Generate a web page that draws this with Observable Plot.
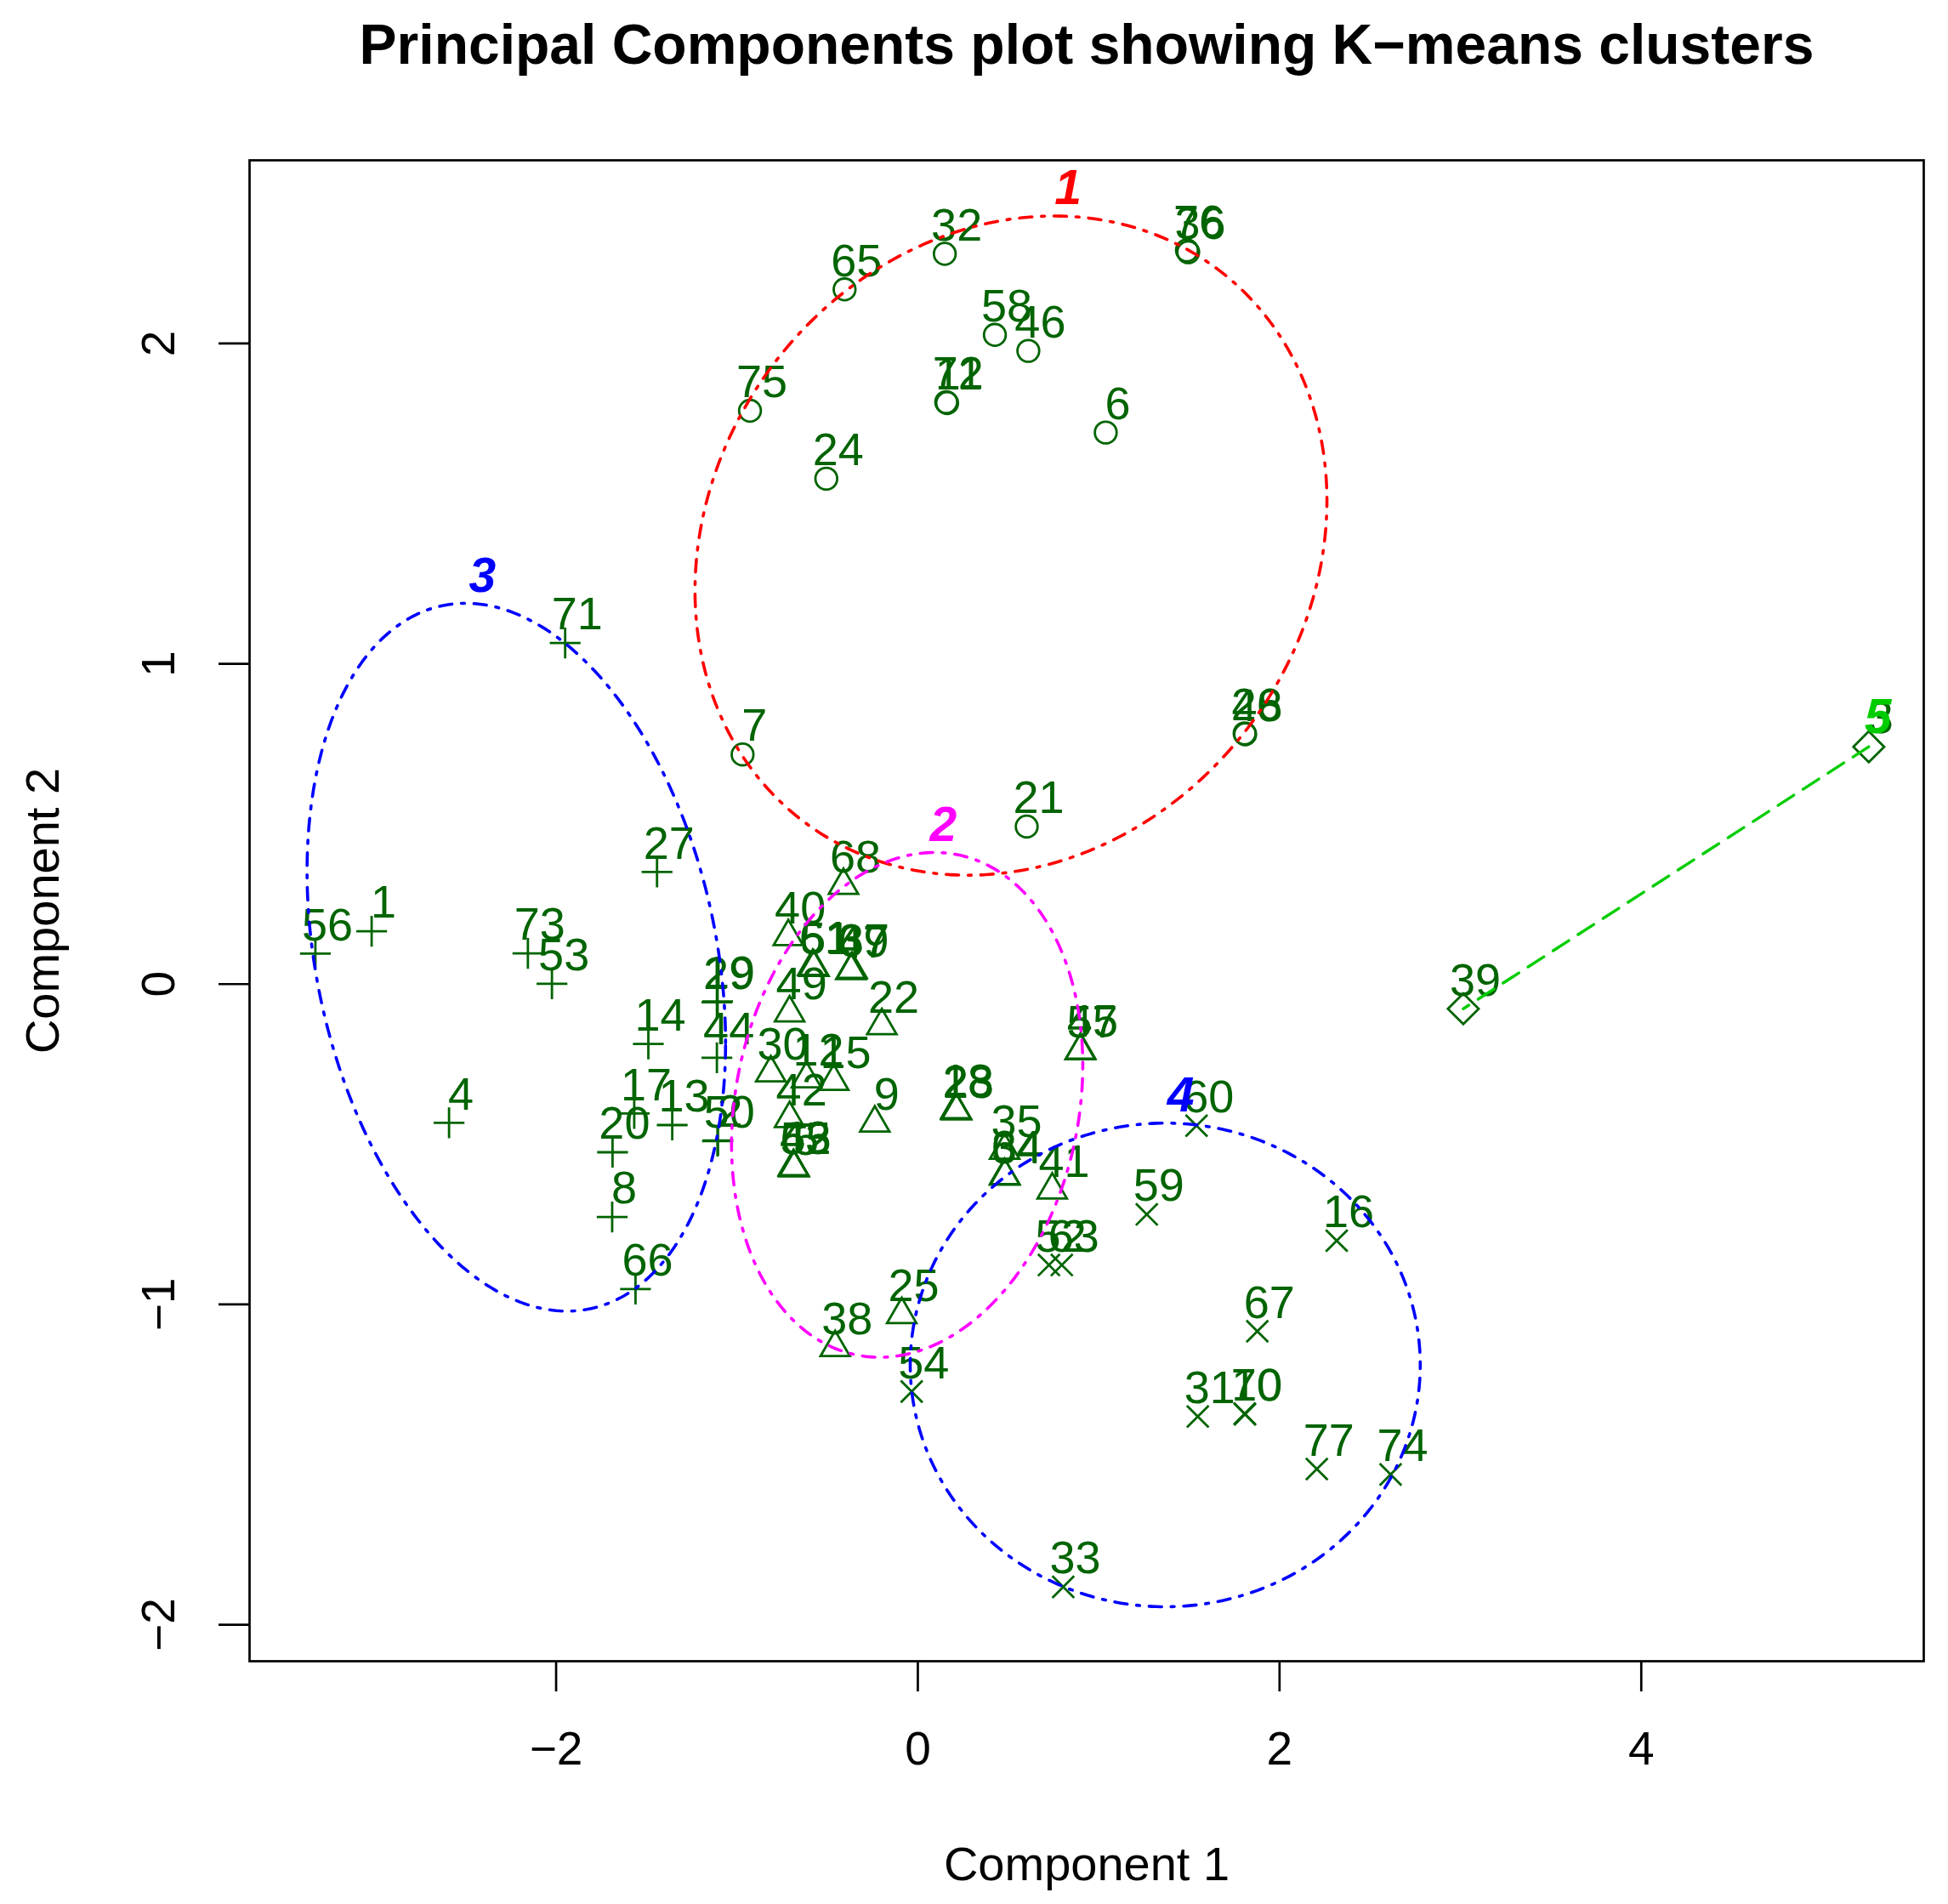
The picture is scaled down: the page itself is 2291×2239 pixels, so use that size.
<!DOCTYPE html>
<html>
<head>
<meta charset="utf-8">
<script src="https://cdn.jsdelivr.net/npm/d3@7"></script>
<script src="https://cdn.jsdelivr.net/npm/@observablehq/plot@0.6"></script>
<style>
html, body { margin: 0; padding: 0; background: #fff; }
#title {
  width: 2291px; height: 150px; box-sizing: border-box;
  padding-left: 265px; padding-top: 2px;
  text-align: center; color: #000;
  font: bold 66px "Liberation Sans", Arial, Helvetica, sans-serif;
  line-height: 100px; white-space: nowrap;
}
</style>
</head>
<body>
<div id="title">Principal Components plot showing K−means clusters</div>
<div id="chart"></div>
<script>
// ---- data ----
const labels = ["1","2","3","4","5","6","7","8","9","10","11","12","13","14","15","16","17","18","19","20","21","22","23","24","25","26","27","28","29","30","31","32","33","34","35","36","37","38","39","40","41","42","43","44","45","46","47","48","49","50","51","52","53","54","55","56","57","58","59","60","61","62","63","64","65","66","67","68","69","70","71","72","73","74","75","76","77"];
const comp1 = [-3.020,-1.105,5.258,-2.592,-0.684,1.039,-0.969,-1.690,-0.238,1.809,0.162,-0.616,-1.358,-1.490,-0.465,2.316,-1.568,0.210,-1.107,-1.688,0.602,-0.199,0.214,-0.506,-0.089,1.807,-1.442,0.212,-1.111,-0.813,1.548,0.149,0.804,0.482,0.480,1.495,-0.364,-0.457,3.016,-0.716,0.743,-0.709,-0.688,-1.111,0.900,0.611,-0.370,1.810,-0.709,-1.108,-0.574,0.725,-2.023,-0.034,-0.686,-3.331,0.898,0.426,1.266,1.541,-0.581,-0.686,0.796,0.480,-0.405,-1.561,1.877,-0.411,-0.367,1.807,-1.950,0.157,-2.156,2.614,-0.928,1.488,2.206];
const comp2 = [0.165,-0.488,0.741,-0.433,-0.574,1.722,0.717,-0.727,-0.434,-1.343,1.814,-0.296,-0.440,-0.187,-0.304,-0.801,-0.404,-0.392,-0.054,-0.525,0.492,-0.130,-0.396,1.578,-1.032,0.783,0.350,-0.394,-0.057,-0.277,-1.350,2.280,-1.882,-0.600,-0.519,2.285,0.046,-1.135,-0.077,0.148,-0.643,-0.420,-0.570,-0.230,-0.206,1.977,0.042,0.780,-0.090,-0.490,0.052,-0.877,0.001,-1.272,-0.572,0.095,-0.208,2.027,-0.719,-0.442,0.055,-0.572,-0.877,-0.598,2.169,-0.952,-1.084,0.308,0.044,-1.341,1.065,1.817,0.096,-1.531,1.790,2.291,-1.514];
const cluster = [3,3,5,3,2,1,1,3,2,4,1,2,3,3,2,4,3,2,3,3,1,2,2,1,2,1,3,2,3,2,4,1,4,2,2,1,2,2,5,2,2,2,2,3,2,1,2,1,2,3,2,4,3,4,2,3,2,1,4,4,2,2,4,2,1,3,4,2,2,4,3,1,3,4,1,1,4];

// cluster ellipses (centre, half extents along the axes, covariance-like term), data units
const ellipseCluster = [1, 2, 3, 4];
const ellipseCx = [0.515, -0.059, -2.220, 1.368];
const ellipseCy = [1.369, -0.377, 0.084, -1.189];
const ellipseHalfX = [1.747, 0.971, 1.157, 1.410];
const ellipseHalfY = [1.029, 0.788, 1.105, 0.755];
const ellipseCov = [0.246, 0.12, -0.31, 0.0];

// cluster number labels
const clusterNames = ["1", "2", "3", "4", "5"];
const clusterLabelX = [0.831, 0.141, -2.407, 1.454, 5.308];
const clusterLabelY = [2.484, 0.494, 1.274, -0.349, 0.833];
const clusterColors = ["#FF0000", "#FF00FF", "#0000FF", "#0000FF", "#00CD00"];

// axes
const xTicks = [-2, 0, 2, 4];
const xTickLabels = ["−2", "0", "2", "4"];
const yTicks = [-2, -1, 0, 1, 2];
const yTickLabels = ["−2", "−1", "0", "1", "2"];
const xTitle = "Component 1";
const yTitle = "Component 2";

// ---- build ----
const FONT = '"Liberation Sans", Arial, Helvetica, sans-serif';
const GREEN = "#006400";
const rows = labels.map((l, i) => ({label: l, x: comp1[i], y: comp2[i], cluster: cluster[i]}));

const S2 = Math.SQRT2;
const rad = size => Math.sqrt(size / Math.PI);
const symCircle = {draw(c, size) { const r = rad(size); c.moveTo(r, 0); c.arc(0, 0, r, 0, 2 * Math.PI); c.closePath(); }};
const symTriangle = {draw(c, size) { const r = rad(size); c.moveTo(0, -1.555 * r); c.lineTo(1.3468 * r, 0.7776 * r); c.lineTo(-1.3468 * r, 0.7776 * r); c.closePath(); }};
const symPlus = {draw(c, size) { const r = rad(size) * S2; c.moveTo(-r, 0); c.lineTo(r, 0); c.moveTo(0, -r); c.lineTo(0, r); }};
const symTimes = {draw(c, size) { const r = rad(size); c.moveTo(-r, -r); c.lineTo(r, r); c.moveTo(-r, r); c.lineTo(r, -r); }};
const symDiamond = {draw(c, size) { const r = rad(size) * S2; c.moveTo(0, -r); c.lineTo(r, 0); c.lineTo(0, r); c.lineTo(-r, 0); c.closePath(); }};
const clusterSymbols = {1: symCircle, 2: symTriangle, 3: symPlus, 4: symTimes, 5: symDiamond};

function ellipsePoints(i) {
  const a = ellipseHalfX[i];
  const c = ellipseCov[i] / a;
  const s = Math.sqrt(ellipseHalfY[i] ** 2 - c * c);
  return d3.range(0, 361).map(k => {
    const t = k * Math.PI / 180;
    return {x: ellipseCx[i] + a * Math.cos(t), y: ellipseCy[i] + c * Math.cos(t) + s * Math.sin(t)};
  });
}

const DOTDASH = "3.7 11.1 14.8 11.1";
const pointMarks = [1, 2, 3, 4, 5].map(k =>
  Plot.dot(rows.filter(d => d.cluster === k), {
    x: "x", y: "y", symbol: clusterSymbols[k], r: 12.8,
    stroke: GREEN, strokeWidth: 2.8, fill: "none"
  })
);
const ellipseMarks = ellipseCluster.map((k, i) =>
  Plot.line(ellipsePoints(i), {x: "x", y: "y", stroke: clusterColors[k - 1], strokeWidth: 3.6, strokeDasharray: DOTDASH})
);
const c5 = rows.filter(d => d.cluster === 5);
const clusterLabelMarks = clusterNames.map((n, i) =>
  Plot.text([n], {x: () => clusterLabelX[i], y: () => clusterLabelY[i], text: d => d,
    fill: clusterColors[i], fontSize: 57, fontWeight: "bold", fontStyle: "italic", lineAnchor: "middle"})
);

const chart = Plot.plot({
  width: 2291, height: 2089,
  marginLeft: 293, marginRight: 29, marginTop: 38, marginBottom: 286,
  x: {domain: [-3.695, 5.562], label: null},
  y: {domain: [-2.114, 2.572], label: null},
  style: {fontFamily: FONT, background: "white", overflow: "visible"},
  marks: [
    Plot.axisX({ticks: xTicks, tickSize: 36, tickFormat: () => "", strokeWidth: 2.7, label: null}),
    Plot.axisY({ticks: yTicks, tickSize: 36, tickFormat: () => "", strokeWidth: 2.7, label: null}),
    Plot.text(xTicks, {x: d => d, frameAnchor: "bottom", dy: 104, text: (d, i) => xTickLabels[i], fontSize: 55, lineAnchor: "middle", textAnchor: "middle", fill: "black"}),
    Plot.text(yTicks, {y: d => d, frameAnchor: "left", dx: -106, rotate: -90, text: (d, i) => yTickLabels[i], fontSize: 55, lineAnchor: "middle", textAnchor: "middle", fill: "black"}),
    Plot.text([xTitle], {frameAnchor: "bottom", dy: 240, text: d => d, fontSize: 56, lineAnchor: "middle", textAnchor: "middle", fill: "black"}),
    Plot.text([yTitle], {frameAnchor: "left", dx: -242, rotate: -90, text: d => d, fontSize: 56, lineAnchor: "middle", textAnchor: "middle", fill: "black"}),
    ...pointMarks,
    Plot.text(rows, {x: "x", y: "y", text: "label", dx: 14, dy: -33, fontSize: 54, fill: GREEN, lineAnchor: "middle"}),
    ...ellipseMarks,
    Plot.line(c5, {x: "x", y: "y", stroke: "#00CD00", strokeWidth: 3.4, strokeDasharray: "22 13"}),
    ...clusterLabelMarks,
    Plot.frame({stroke: "black", strokeWidth: 2.7})
  ]
});
document.getElementById("chart").appendChild(chart);
</script>
</body>
</html>
